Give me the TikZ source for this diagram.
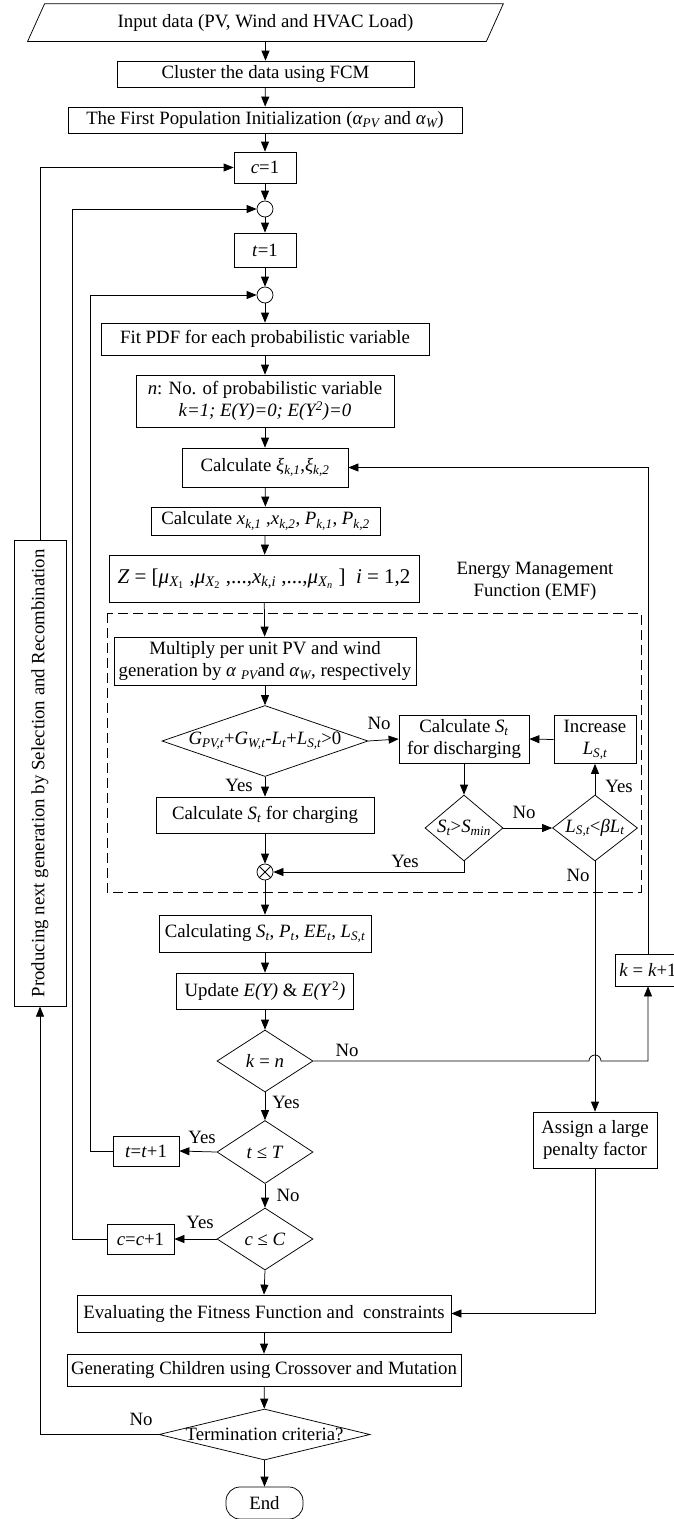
\documentclass[tikz,border=0pt]{standalone}
\usepackage{fontspec}
\setmainfont{Liberation Serif}
\usetikzlibrary{arrows.meta,shapes.geometric,calc}
\newcommand{\sbi}[1]{\textsubscript{\itshape #1}}

\begin{document}
\begin{tikzpicture}[x=1pt,y=-1pt,
  font=\fontsize{18.8}{22}\selectfont,
  line width=0.75pt,
  arr/.style={-{Triangle[length=10pt,width=8pt]}},
  box/.style={draw, inner sep=0pt, align=center},
  dia/.style={draw, diamond, inner sep=0pt},
  junc/.style={draw, circle, minimum size=16pt, inner sep=0pt},
  lbl/.style={inner sep=0pt},
]
\useasboundingbox (0,0) rectangle (674,1519);
\fill[white] (0,0) rectangle (674,1519);

% ---------- main column ----------
\node[inner sep=0pt, minimum width=458, minimum height=37] (in) at (265.5,22.5) {Input data (PV, Wind and HVAC Load)};
\draw ([xshift=-8.5]in.south west) -- ([xshift=8.5]in.north west) -- ([xshift=8.5]in.north east) -- ([xshift=-8.5]in.south east) -- cycle;

\node[box, minimum width=297, minimum height=26] (clu) at (265.5,74) {Cluster the data using FCM};
\node[box, minimum width=394, minimum height=26] (pop) at (265,120) {The First Population Initialization (\textit{α}\sbi{PV} and \textit{α}\sbi{W})};
\node[box, minimum width=62, minimum height=31] (c1) at (265,167.5) {\textit{c}=1};
\node[junc] (o1) at (265,209) {};
\node[box, minimum width=62, minimum height=34] (t1) at (265,250) {\textit{t}=1};
\node[junc] (o2) at (265,295) {};
\node[box, minimum width=328, minimum height=32] (fit) at (265,339) {Fit PDF for each probabilistic variable};
\node[box, minimum width=258, minimum height=52] (nb) at (265,401) {\textit{n}: No. of probabilistic variable\\\textit{k=1; E(Y)=0; E(Y\textsuperscript{2})=0}};
\node[box, minimum width=166, minimum height=39] (xi) at (265,467.5) {Calculate \textit{ξ}\sbi{k,1},\textit{ξ}\sbi{k,2}};
\node[box, minimum width=229, minimum height=28] (cx) at (265.5,521) {Calculate \textit{x}\sbi{k,1} ,\textit{x}\sbi{k,2}, \textit{P}\sbi{k,1}, \textit{P}\sbi{k,2}};
\node[box, minimum width=310, minimum height=47, font=\fontsize{21}{24}\selectfont] (zz) at (264,578.5)
  {\textit{Z} = [\textit{μ}\sbi{X\textsubscript{\upshape 1}} ,\textit{μ}\sbi{X\textsubscript{\upshape 2}} ,...,\textit{x}\sbi{k,i} ,...,\textit{μ}\sbi{X\textsubscript{n}} ]\enspace\textit{i} = 1,2};

% ---------- energy management function ----------
\node[lbl, align=center] (emf) at (535,581.5) {Energy Management\\Function (EMF)};
\draw[dash pattern=on 10pt off 5pt] (107,613) rectangle (641,892);

\node[box, minimum width=302, minimum height=48] (mul) at (265,661) {Multiply per unit PV and wind\\generation by \textit{α} \sbi{PV}and \textit{α}\sbi{W}, respectively};
\node[dia, minimum width=206, minimum height=71] (d1) at (265,741) {};
\node[lbl] (d1t) at (d1.center) {\textit{G}\sbi{PV,t}+\textit{G}\sbi{W,t}-\textit{L}\sbi{t}+\textit{L}\sbi{S,t}>0};
\node[box, minimum width=130, minimum height=48] (dis) at (464,739) {Calculate \textit{S}\sbi{t}\\for discharging};
\node[box, minimum width=82, minimum height=48] (inc) at (595,739.5) {Increase\\\textit{L}\sbi{S,t}};
\node[box, minimum width=218, minimum height=36] (chg) at (265,815) {Calculate \textit{S}\sbi{t} for charging};
\node[dia, minimum width=78, minimum height=66] (d2) at (464,828) {};
\node[lbl] (d2t) at (d2.center) {\textit{S}\sbi{t}>\textit{S}\sbi{min}};
\node[dia, minimum width=85, minimum height=66] (d3) at (595,828) {};
\node[lbl] (d3t) at (d3.center) {\textit{L}\sbi{S,t}<\textit{βL}\sbi{t}};
\node[junc] (ot) at (265,872) {};
\draw (ot.north east) -- (ot.south west) (ot.north west) -- (ot.south east);

% ---------- inner loop ----------
\node[box, minimum width=212, minimum height=37] (calc) at (265,933.5) {Calculating \textit{S}\sbi{t}, \textit{P}\sbi{t}, \textit{EE}\sbi{t}, \textit{L}\sbi{S,t}};
\node[box, minimum width=177, minimum height=36] (upd) at (265,991) {Update \textit{E(Y)} \& \textit{E(Y}\textsuperscript{2}\textit{)}};
\node[dia, minimum width=96, minimum height=62] (kn) at (265,1061) {};
\node[lbl] (knt) at (kn.center) {\textit{k} = \textit{n}};
\node[box, minimum width=66, minimum height=32] (kk) at (648,970) {\textit{k} = \textit{k}+1};
\node[dia, minimum width=96, minimum height=63] (tT) at (265,1152) {};
\node[lbl] (tTt) at (tT.center) {\textit{t} ≤ \textit{T}};
\node[box, minimum width=66, minimum height=30] (tt) at (146,1151) {\textit{t}=\textit{t}+1};
\node[dia, minimum width=96, minimum height=62] (cC) at (265,1239) {};
\node[lbl] (cCt) at (cC.center) {\textit{c} ≤ \textit{C}};
\node[box, minimum width=67, minimum height=30] (cc) at (140.5,1239) {\textit{c}=\textit{c}+1};
\node[box, minimum width=124, minimum height=56] (asg) at (595,1140) {Assign a large\\penalty factor};

% ---------- genetic algorithm ----------
\node[box, minimum width=374, minimum height=37] (ev) at (264,1313.5) {Evaluating the Fitness Function and\ \ constraints};
\node[box, minimum width=394, minimum height=32] (gen) at (264,1370) {Generating Children using Crossover and Mutation};
\node[dia, minimum width=211, minimum height=51] (term) at (264.5,1434.5) {};
\node[lbl] (termt) at (term.center) {Termination criteria?};
\node[draw, rounded corners=14pt, minimum width=77, minimum height=32, inner sep=0pt] (fin) at (264.5,1503) {End};
\node[box, rotate=90, minimum width=466, minimum height=52] (prod) at (40,773.25)
  {Producing next generation by Selection and Recombination};

% ---------- connectors ----------
\draw[arr] (in.south) -- (clu.north);
\draw[arr] (clu) -- (pop);
\draw[arr] (pop) -- (c1);
\draw[arr] (c1) -- (o1);
\draw[arr] (o1) -- (t1);
\draw[arr] (t1) -- (o2);
\draw[arr] (o2) -- (fit);
\draw[arr] (fit) -- (nb);
\draw[arr] (nb) -- (xi);
\draw[arr] (xi) -- (cx);
\draw[arr] (cx) -- (zz);
\draw[arr] (zz) -- (mul);
\draw[arr] (mul) -- (d1);
\draw[arr] (d1.east) -- (dis.west);
\draw[arr] (d1.south) -- (chg.north);
\draw[arr] (chg.south) -- (ot.north);
\draw[arr] (dis.south) -- (d2.north);
\draw[arr] (d2.east) -- (d3.west);
\draw[arr] (d3.north) -- (inc.south);
\draw[arr] (inc.west) -- (dis.east);
\draw[arr] (d2.south) |- (ot.east);
\draw[arr] (d3.south) -- (asg.north);
\draw[arr] (ot.south) -- (calc.north);
\draw[arr] (calc) -- (upd);
\draw[arr] (upd) -- (kn);
\draw[arr] (kn.south) -- (tT.north);
\draw[arr] (kn.east) -- ($(d3.south |- kn.east)+(-6,0)$) arc[start angle=180, end angle=0, radius=6pt] -- (kk.south |- kn.east) -- (kk.south);
\draw[arr] (kk.north) |- (xi.east);
\draw[arr] (tT.west) -- (tt.east);
\draw[arr] (tt.west) -- ++(-22,0) |- (o2.west);
\draw[arr] (tT.south) -- (cC.north);
\draw[arr] (cC.west) -- (cc.east);
\draw[arr] (cc.west) -- ++(-34,0) |- (o1.west);
\draw[arr] (cC.south) -- (ev.north);
\draw[arr] (asg.south) |- (ev.east);
\draw[arr] (ev) -- (gen);
\draw[arr] (gen) -- (term);
\draw[arr] (term.south) -- (fin.north);
\draw[arr] (term.west) -| (prod.west);
\draw[arr] (prod.east) |- (c1.west);

% ---------- branch labels ----------
\node[lbl] (l1) at (379,723) {No};
\node[lbl] (l2) at (239,785) {Yes};
\node[lbl] (l3) at (619,786) {Yes};
\node[lbl] (l4) at (524,812) {No};
\node[lbl] (l5) at (405,861) {Yes};
\node[lbl] (l6) at (578,875) {No};
\node[lbl] (l7) at (347,1050) {No};
\node[lbl] (l8) at (286,1102) {Yes};
\node[lbl] (l9) at (202,1137) {Yes};
\node[lbl] (l10) at (288,1195) {No};
\node[lbl] (l11) at (200,1222) {Yes};
\node[lbl] (l12) at (141,1419) {No};
\end{tikzpicture}
\end{document}
